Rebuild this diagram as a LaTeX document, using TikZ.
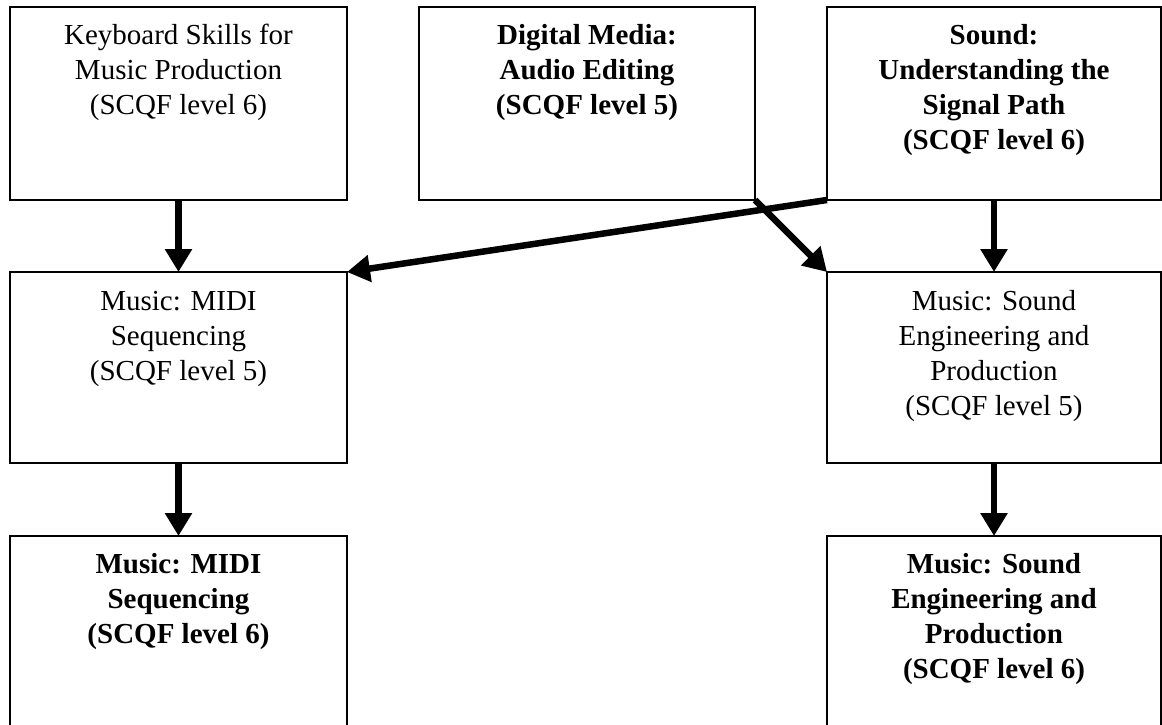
\documentclass[tikz,border=0pt]{standalone}
\usepackage{fontspec}
\setmainfont{Liberation Serif}
\usetikzlibrary{arrows.meta}
\begin{document}
\begin{tikzpicture}[x=1pt,y=-1pt,
  box/.style={draw, line width=1.8pt, inner sep=0pt, outer sep=0pt},
  lbl/.style={anchor=base, inner sep=0pt, font=\fontsize{29}{35}\selectfont},
  arr/.style={line width=6.5pt, -{Triangle[width=26pt,length=23pt]}}]
\useasboundingbox (0,0) rectangle (1162,725);
\clip (0,0) rectangle (1162,725);
\fill[white] (0,0) rectangle (1162,725);
% boxes
\node[box, minimum width=337pt, minimum height=193pt] (kb)    at (178.5,103.5) {};
\node[box, minimum width=336pt, minimum height=193pt] (dm)    at (587,103.5)   {};
\node[box, minimum width=334pt, minimum height=193pt] (snd)   at (994,103.5)   {};
\node[box, minimum width=337pt, minimum height=191pt] (midi5) at (178.5,367.5) {};
\node[box, minimum width=334pt, minimum height=191pt] (se5)   at (994,367.5)   {};
\node[box, minimum width=337pt, minimum height=244pt] (midi6) at (178.5,658)   {};
\node[box, minimum width=334pt, minimum height=244pt] (se6)   at (994,658)     {};
% labels
\node[lbl] (kbt) at (178.5,45) {\begin{tabular}[t]{@{}c@{}}Keyboard Skills for\\Music Production\\(SCQF level 6)\end{tabular}};
\node[lbl] (dmt) at (587,45) {\bfseries\begin{tabular}[t]{@{}c@{}}Digital Media:\\Audio Editing\\(SCQF level 5)\end{tabular}};
\node[lbl] (sndt) at (994,45) {\bfseries\begin{tabular}[t]{@{}c@{}}Sound:\\Understanding the\\Signal Path\\(SCQF level 6)\end{tabular}};
\node[lbl] (midi5t) at (178.5,310) {\begin{tabular}[t]{@{}c@{}}Music: MIDI\\Sequencing\\(SCQF level 5)\end{tabular}};
\node[lbl] (se5t) at (994,310) {\begin{tabular}[t]{@{}c@{}}Music: Sound\\Engineering and\\Production\\(SCQF level 5)\end{tabular}};
\node[lbl] (midi6t) at (178.5,573) {\bfseries\begin{tabular}[t]{@{}c@{}}Music: MIDI\\Sequencing\\(SCQF level 6)\end{tabular}};
\node[lbl] (se6t) at (994,573) {\bfseries\begin{tabular}[t]{@{}c@{}}Music: Sound\\Engineering and\\Production\\(SCQF level 6)\end{tabular}};
% arrows
\draw[arr] (kb.south) -- (midi5.north);
\draw[arr] (snd.south) -- (se5.north);
\draw[arr] (midi5.south) -- (midi6.north);
\draw[arr] (se5.south) -- (se6.north);
\draw[arr] (snd.south west) -- (midi5.north east);
\draw[arr] (dm.south east) -- (se5.north west);
\end{tikzpicture}
\end{document}
